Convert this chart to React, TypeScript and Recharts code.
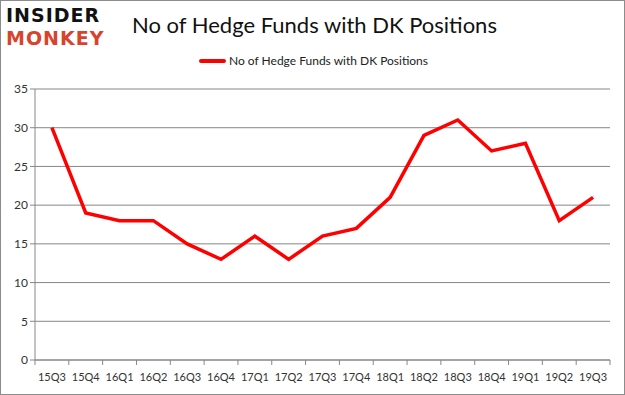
import React from "react";
import { LineChart, Line, XAxis, YAxis, CartesianGrid } from "recharts";

const quarters = ["15Q3", "15Q4", "16Q1", "16Q2", "16Q3", "16Q4", "17Q1", "17Q2", "17Q3", "17Q4", "18Q1", "18Q2", "18Q3", "18Q4", "19Q1", "19Q2", "19Q3"];
const hedgeFunds = [30, 19, 18, 18, 15, 13, 16, 13, 16, 17, 21, 29, 31, 27, 28, 18, 21];
const yTicks = [0, 5, 10, 15, 20, 25, 30, 35];

const W = 625;
const H = 395;
const LEFT = 35;
const RIGHT = 15;
const PLOT_W = W - LEFT - RIGHT;
const HALF = PLOT_W / quarters.length / 2;
const AXIS = "#878787";
const FONT = "Lato, 'Open Sans', sans-serif";

const data = quarters.map((q, i) => ({ q, v: hedgeFunds[i] }));

// Excel-style: label in the middle of the band, tick marks on the band edges
function QuarterTick(props: any) {
  const { x, y, payload, index } = props;
  const last = index === quarters.length - 1;
  return (
    <g>
      <line x1={x - HALF} x2={x - HALF} y1={y - 8} y2={y - 3} stroke={AXIS} />
      {last && <line x1={x + HALF} x2={x + HALF} y1={y - 8} y2={y - 3} stroke={AXIS} />}
      <text x={x} y={y + 13} textAnchor="middle" fontSize={11} fill="#333" fontFamily={FONT}>
        {payload.value}
      </text>
    </g>
  );
}

export default function App() {
  return (
    <div style={{ position: "fixed", left: 0, top: 0, width: W, height: H, background: "#fff" }}>
      <div style={{ position: "absolute", inset: 0, border: "1px solid #8c8c8c", boxSizing: "border-box", pointerEvents: "none", zIndex: 2 }} />
      <div style={{ position: "absolute", left: 6, top: 4, fontFamily: "'DejaVu Sans', sans-serif", fontWeight: 900, fontSize: 19, lineHeight: "23px", letterSpacing: 1 }}>
        <div style={{ color: "#111", height: 23 }}>INSIDER</div>
        <div style={{ color: "#d8432e", height: 23 }}>MONKEY</div>
      </div>
      <div style={{ position: "absolute", left: 0, width: W, top: 11, textAlign: "center", fontFamily: FONT, fontSize: 22, color: "#111", paddingLeft: 2 }}>
        No of Hedge Funds with DK Positions
      </div>
      <div style={{ position: "absolute", left: 199, top: 53, display: "flex", alignItems: "center", fontFamily: FONT, fontSize: 12, color: "#222" }}>
        <span style={{ display: "inline-block", width: 27, height: 4, background: "#ff0000", borderRadius: 2, marginRight: 3 }} />
        No of Hedge Funds with DK Positions
      </div>
      <LineChart width={W} height={H} data={data} margin={{ top: 89, right: RIGHT, bottom: 0, left: 0 }}>
        <CartesianGrid vertical={false} stroke={AXIS} strokeWidth={1} />
        <XAxis
          dataKey="q"
          height={35}
          padding={{ left: HALF, right: HALF }}
          stroke={AXIS}
          tickLine={false}
          tick={<QuarterTick />}
          interval={0}
        />
        <YAxis
          width={LEFT}
          domain={[0, 35]}
          ticks={yTicks}
          stroke={AXIS}
          tickSize={5}
          tick={{ fontSize: 12, fill: "#333", fontFamily: FONT }}
        />
        <Line type="linear" dataKey="v" stroke="#ff0000" strokeWidth={3.5} dot={false} isAnimationActive={false} />
      </LineChart>
    </div>
  );
}
